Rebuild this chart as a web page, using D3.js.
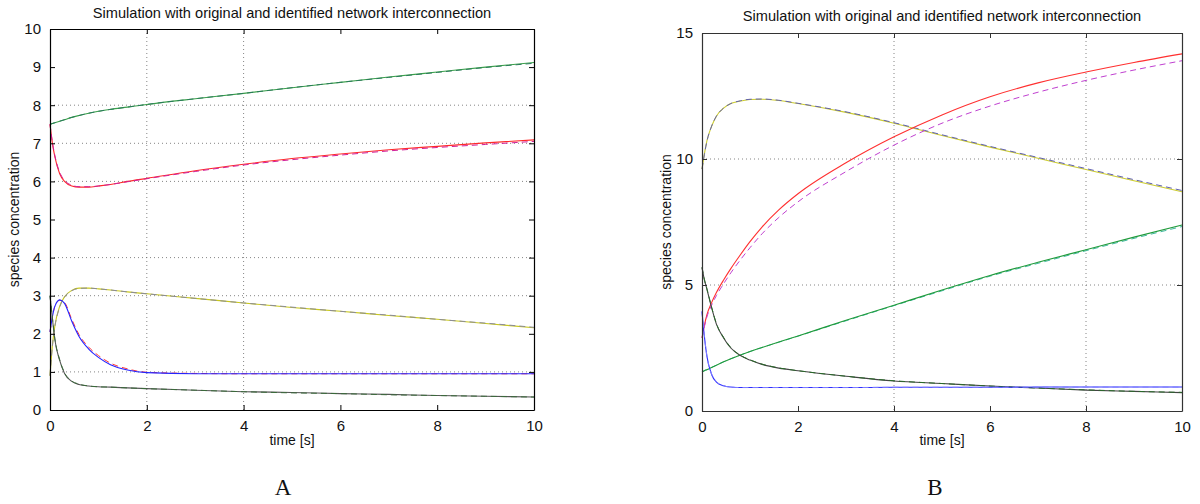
<!DOCTYPE html>
<html lang="en">
<head>
<meta charset="UTF-8">
<title>Simulation with original and identified network interconnection</title>
<script src="https://d3js.org/d3.v7.min.js"></script>
<style>
    body { margin: 0; background: #fff; }
    svg text { font-family: "Liberation Sans", Arial, sans-serif; fill: #111; }
    .panel-label { font-family: "Liberation Serif", "DejaVu Serif", serif; font-size: 23px; }
</style>
</head>
<body>
<div id="chart"></div>
<script>
// shared time grid [s]
const timeGrid = [0, 0.05, 0.1, 0.2, 0.3, 0.45, 0.6, 0.8, 1, 1.25, 1.6, 2, 3, 4, 5, 6, 7, 8, 9, 10];

// panel A
const aGreen      = [7.5, 7.52, 7.54, 7.58, 7.62, 7.68, 7.73, 7.79, 7.84, 7.89, 7.95, 8.02, 8.17, 8.31, 8.46, 8.6, 8.74, 8.87, 9.0, 9.12];
const aGreenId    = [7.5, 7.52, 7.54, 7.58, 7.62, 7.68, 7.73, 7.79, 7.84, 7.89, 7.95, 8.02, 8.17, 8.31, 8.46, 8.6, 8.73, 8.86, 8.99, 9.1];
const aRed        = [7.5, 7.0, 6.65, 6.2, 6.0, 5.88, 5.85, 5.85, 5.88, 5.92, 6.0, 6.08, 6.28, 6.45, 6.6, 6.72, 6.83, 6.92, 7.01, 7.09];
const aRedId      = [7.5, 7.02, 6.68, 6.24, 6.03, 5.9, 5.86, 5.86, 5.88, 5.92, 5.99, 6.07, 6.26, 6.43, 6.57, 6.69, 6.8, 6.89, 6.97, 7.05];
const aYellow     = [0.9, 1.7, 2.2, 2.72, 2.97, 3.14, 3.2, 3.2, 3.18, 3.15, 3.1, 3.05, 2.93, 2.81, 2.69, 2.59, 2.48, 2.38, 2.27, 2.16];
const aYellowId   = [0.9, 1.68, 2.18, 2.7, 2.96, 3.13, 3.19, 3.2, 3.18, 3.15, 3.1, 3.05, 2.93, 2.81, 2.7, 2.59, 2.49, 2.38, 2.28, 2.17];
const aBlue       = [2.05, 2.45, 2.72, 2.89, 2.8, 2.33, 1.93, 1.6, 1.38, 1.19, 1.05, 0.98, 0.95, 0.95, 0.95, 0.95, 0.95, 0.95, 0.95, 0.95];
const aBlueId     = [2.05, 2.45, 2.72, 2.88, 2.82, 2.38, 1.98, 1.65, 1.43, 1.23, 1.08, 0.99, 0.96, 0.95, 0.95, 0.95, 0.95, 0.95, 0.95, 0.95];
const aBlack      = [3.0, 2.4, 1.85, 1.3, 0.96, 0.75, 0.67, 0.63, 0.61, 0.6, 0.58, 0.56, 0.52, 0.48, 0.46, 0.43, 0.41, 0.38, 0.36, 0.34];
const aBlackId    = [3.0, 2.42, 1.88, 1.32, 0.98, 0.76, 0.68, 0.63, 0.61, 0.6, 0.58, 0.56, 0.52, 0.48, 0.45, 0.43, 0.4, 0.38, 0.36, 0.34];

// panel B
const bYellow     = [9.6, 10.2, 10.7, 11.3, 11.7, 12.02, 12.2, 12.3, 12.36, 12.37, 12.32, 12.2, 11.85, 11.42, 10.93, 10.47, 10.03, 9.58, 9.14, 8.7];
const bYellowId   = [9.6, 10.18, 10.68, 11.3, 11.7, 12.02, 12.2, 12.31, 12.37, 12.38, 12.33, 12.21, 11.87, 11.44, 10.96, 10.5, 10.06, 9.62, 9.18, 8.75];
const bRed        = [2.9, 3.4, 3.8, 4.3, 4.7, 5.2, 5.65, 6.2, 6.72, 7.3, 7.98, 8.62, 9.85, 10.88, 11.75, 12.47, 13.02, 13.45, 13.83, 14.17];
const bRedId      = [2.9, 3.35, 3.72, 4.2, 4.58, 5.05, 5.48, 6.0, 6.48, 7.03, 7.68, 8.3, 9.5, 10.55, 11.42, 12.1, 12.65, 13.12, 13.53, 13.9];
const bGreen      = [1.55, 1.6, 1.64, 1.73, 1.82, 1.95, 2.07, 2.22, 2.36, 2.52, 2.74, 2.98, 3.6, 4.2, 4.8, 5.38, 5.9, 6.4, 6.9, 7.38];
const bGreenId    = [1.55, 1.6, 1.64, 1.73, 1.82, 1.95, 2.07, 2.22, 2.36, 2.52, 2.73, 2.97, 3.58, 4.18, 4.77, 5.35, 5.86, 6.36, 6.85, 7.32];
const bBlack      = [5.7, 5.2, 4.85, 4.1, 3.45, 2.9, 2.5, 2.2, 2.02, 1.85, 1.7, 1.6, 1.38, 1.19, 1.09, 0.99, 0.91, 0.83, 0.78, 0.73];
const bBlackId    = [5.7, 5.22, 4.87, 4.12, 3.47, 2.92, 2.52, 2.21, 2.03, 1.86, 1.71, 1.6, 1.38, 1.2, 1.09, 0.99, 0.91, 0.84, 0.78, 0.74];
const bBlue       = [3.95, 2.95, 2.2, 1.45, 1.15, 1.0, 0.95, 0.93, 0.93, 0.93, 0.93, 0.93, 0.93, 0.94, 0.94, 0.94, 0.95, 0.95, 0.95, 0.95];
const bBlueId     = [3.95, 2.97, 2.22, 1.47, 1.16, 1.0, 0.95, 0.93, 0.93, 0.93, 0.93, 0.93, 0.93, 0.94, 0.94, 0.94, 0.95, 0.95, 0.95, 0.95];

const xTicks = [0, 2, 4, 6, 8, 10];
const aYTicks = [0, 1, 2, 3, 4, 5, 6, 7, 8, 9, 10];
const bYTicks = [0, 5, 10, 15];
// grid lines that show in the figure
const aGridX = [2, 4];
const aGridY = [1, 3, 4, 6, 7, 8];
const bGridX = [4, 8];
const bGridY = [5, 10];

const titleText = "Simulation with original and identified network interconnection";

const panels = [
    {
        label: "A", left: 50, right: 534, top: 29, bottom: 410, yMax: 10,
        yTicks: aYTicks, gridX: aGridX, gridY: aGridY, frame: "#000",
        titleY: 18, ylabelX: 19, labelX: 283,
        series: [
            { v: aGreen, c: "#3aa04a" }, { v: aGreenId, c: "#2a7a5a", dash: true },
            { v: aRed, c: "#ff2a2a" }, { v: aRedId, c: "#d0209a", dash: true },
            { v: aYellow, c: "#c8c81e" }, { v: aYellowId, c: "#8a8a9a", dash: true },
            { v: aBlueId, c: "#ff3a3a", dash: true }, { v: aBlue, c: "#2424ff" },
            { v: aBlack, c: "#555" }, { v: aBlackId, c: "#3a6a3a", dash: true }
        ]
    },
    {
        label: "B", left: 702, right: 1182, top: 33, bottom: 411, yMax: 15,
        yTicks: bYTicks, gridX: bGridX, gridY: bGridY, frame: "#333",
        titleY: 21, ylabelX: 671, labelX: 935,
        series: [
            { v: bYellow, c: "#cccc30" }, { v: bYellowId, c: "#6060b0", dash: true },
            { v: bRed, c: "#ff3030" }, { v: bRedId, c: "#c040d0", dash: true },
            { v: bGreenId, c: "#40b8a0", dash: true }, { v: bGreen, c: "#1f9a3a" },
            { v: bBlack, c: "#444" }, { v: bBlackId, c: "#2a6a2a", dash: true },
            { v: bBlue, c: "#3030ff" }, { v: bBlueId, c: "#8080ff", dash: true }
        ]
    }
];

const svg = d3.select("#chart").append("svg")
    .attr("width", 1200)
    .attr("height", 504);

panels.forEach(function(p) {
    const x = d3.scaleLinear().domain([0, 10]).range([p.left, p.right]);
    const y = d3.scaleLinear().domain([0, p.yMax]).range([p.bottom, p.top]);
    const g = svg.append("g");
    const midX = (p.left + p.right) / 2;

    // dotted grid
    g.selectAll(".gx").data(p.gridX).enter().append("line")
        .attr("x1", d => x(d)).attr("x2", d => x(d))
        .attr("y1", p.top).attr("y2", p.bottom)
        .attr("stroke", "#666").attr("stroke-width", 0.8)
        .attr("stroke-dasharray", "1,3");
    g.selectAll(".gy").data(p.gridY).enter().append("line")
        .attr("x1", p.left).attr("x2", p.right)
        .attr("y1", d => y(d)).attr("y2", d => y(d))
        .attr("stroke", "#666").attr("stroke-width", 0.8)
        .attr("stroke-dasharray", "1,3");

    // curves
    const line = d3.line()
        .x((d, i) => x(timeGrid[i]))
        .y(d => y(d))
        .curve(d3.curveMonotoneX);
    p.series.forEach(function(s) {
        g.append("path")
            .attr("d", line(s.v))
            .attr("fill", "none")
            .attr("stroke", s.c)
            .attr("stroke-width", s.dash ? 1 : 1.1)
            .attr("stroke-dasharray", s.dash ? "6,4" : null);
    });

    // axes with inward ticks, on all four sides
    const fmt = d3.format("d");
    const bottomAxis = g.append("g").attr("transform", `translate(0,${p.bottom})`)
        .call(d3.axisBottom(x).tickValues(xTicks).tickSizeInner(-5).tickSizeOuter(0).tickPadding(10).tickFormat(fmt));
    const topAxis = g.append("g").attr("transform", `translate(0,${p.top})`)
        .call(d3.axisTop(x).tickValues(xTicks).tickSizeInner(-5).tickSizeOuter(0).tickFormat(""));
    const leftAxis = g.append("g").attr("transform", `translate(${p.left},0)`)
        .call(d3.axisLeft(y).tickValues(p.yTicks).tickSizeInner(-5).tickSizeOuter(0).tickPadding(9).tickFormat(fmt));
    const rightAxis = g.append("g").attr("transform", `translate(${p.right},0)`)
        .call(d3.axisRight(y).tickValues(p.yTicks).tickSizeInner(-5).tickSizeOuter(0).tickFormat(""));
    [bottomAxis, topAxis, leftAxis, rightAxis].forEach(function(a) {
        a.select(".domain").attr("stroke", p.frame).attr("stroke-width", 1.2);
        a.selectAll(".tick line").attr("stroke", p.frame);
        a.selectAll(".tick text").attr("font-size", 15).attr("fill", "#111")
            .attr("font-family", "Liberation Sans, Arial, sans-serif");
    });

    // texts
    g.append("text").attr("x", midX).attr("y", p.titleY)
        .attr("text-anchor", "middle").attr("font-size", 14.6).text(titleText);
    g.append("text").attr("x", midX).attr("y", 445)
        .attr("text-anchor", "middle").attr("font-size", 14).text("time [s]");
    g.append("text")
        .attr("transform", `translate(${p.ylabelX},${(p.top + p.bottom) / 2}) rotate(-90)`)
        .attr("text-anchor", "middle").attr("font-size", 14).text("species concentration");
    g.append("text").attr("class", "panel-label")
        .attr("x", p.labelX).attr("y", 495)
        .attr("text-anchor", "middle").text(p.label);
});
</script>
</body>
</html>
